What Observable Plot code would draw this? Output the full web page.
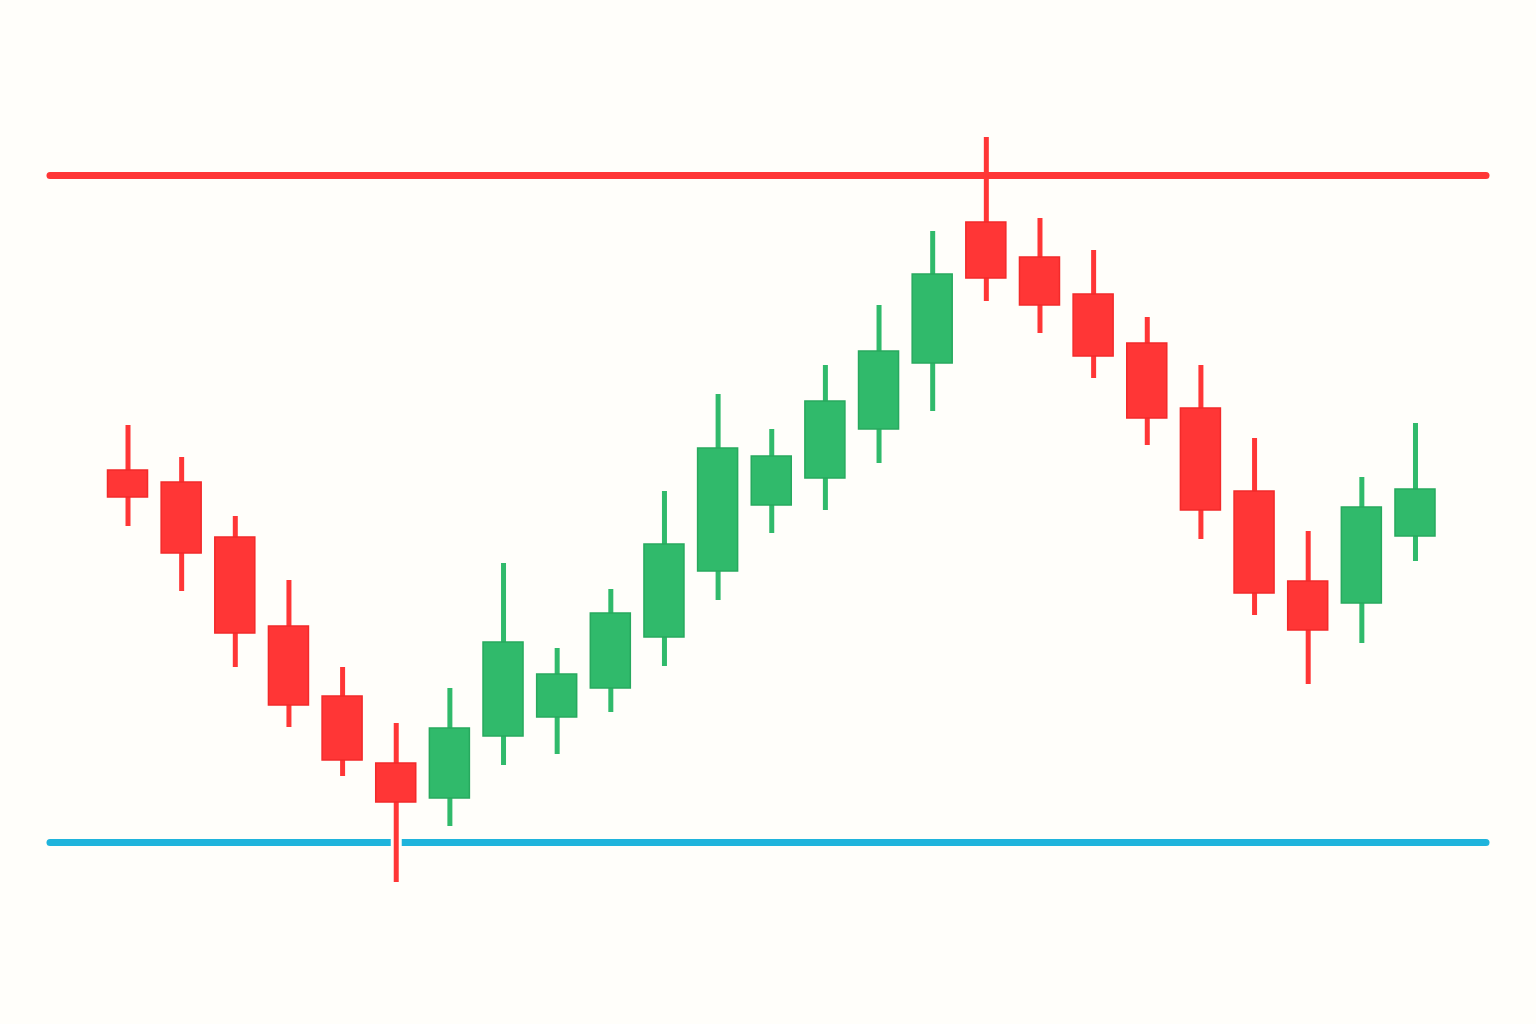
<!DOCTYPE html>
<html>
<head>
<meta charset="utf-8">
<script src="https://cdn.jsdelivr.net/npm/d3@7"></script>
<script src="https://cdn.jsdelivr.net/npm/@observablehq/plot@0.6"></script>
<style>
  html, body { margin: 0; padding: 0; background: #fffefa; }
  #chart { width: 1536px; height: 1024px; }
  svg { display: block; }
</style>
</head>
<body>
<div id="chart"></div>
<script>
// Candle index
const idx = d3.range(1, 26);
// OHLC values
const open  = [53.0, 51.8, 46.3, 37.4, 30.4, 23.7, 20.2, 26.4, 28.3, 31.2, 36.3, 42.9, 49.5, 52.2, 57.1, 63.7, 77.8, 74.3, 70.6, 65.7, 59.2, 50.9, 41.9, 39.7, 46.4];
const high  = [57.5, 54.3, 48.4, 42.0, 33.3, 27.7, 31.2, 43.7, 35.2, 41.1, 50.9, 60.6, 57.1, 63.5, 69.5, 76.9, 86.3, 78.2, 75.0, 68.3, 63.5, 56.2, 46.9, 52.3, 57.7];
const low   = [47.4, 40.9, 33.3, 27.3, 22.4, 11.8, 17.4, 23.5, 24.6, 28.8, 33.4, 40.0, 46.7, 49.0, 53.7, 58.9, 69.9, 66.7, 62.2, 55.5, 46.1, 38.5, 31.6, 35.7, 43.9];
const close = [50.3, 44.7, 36.7, 29.5, 24.0, 19.8, 27.2, 35.8, 32.6, 38.7, 45.6, 55.2, 54.4, 59.9, 64.9, 72.6, 72.2, 69.5, 64.4, 58.2, 49.0, 40.7, 37.0, 49.3, 51.1];
// Levels
const resistance = [82.5];
const support = [15.8];

const data = idx.map((i, k) => ({
  i, open: open[k], high: high[k], low: low[k], close: close[k],
  up: close[k] >= open[k]
}));

const BG = "#fffefa";
const RED = "#ff3636", RED_EDGE = "#f22a2a";
const GREEN = "#30ba6b", GREEN_EDGE = "#27a95e";
const BLUE = "#1fb4dc";

const chart = Plot.plot({
  width: 1536,
  height: 1024,
  marginTop: 0,
  marginBottom: 0,
  marginLeft: 50,
  marginRight: 50,
  style: { background: BG, overflow: "visible" },
  x: { type: "band", domain: idx, range: [107.5, 1435], paddingInner: 0.254, paddingOuter: 0, round: false, axis: null },
  y: { domain: [-2.4, 100], range: [1024, 0], axis: null },
  marks: [
    Plot.ruleY(support, { stroke: BLUE, strokeWidth: 7, strokeLinecap: "round" }),
    Plot.ruleX(data, { x: "i", y1: "low", y2: "high", stroke: BG, strokeWidth: 11 }),
    Plot.ruleY(resistance, { stroke: RED, strokeWidth: 7, strokeLinecap: "round" }),
    Plot.ruleX(data, { x: "i", y1: "low", y2: "high", stroke: d => d.up ? GREEN : RED, strokeWidth: 5 }),
    Plot.barY(data, {
      x: "i", y1: "open", y2: "close",
      fill: d => d.up ? GREEN : RED,
      stroke: d => d.up ? GREEN_EDGE : RED_EDGE,
      strokeWidth: 1.5
    })
  ]
});
document.getElementById("chart").appendChild(chart);
</script>
</body>
</html>
